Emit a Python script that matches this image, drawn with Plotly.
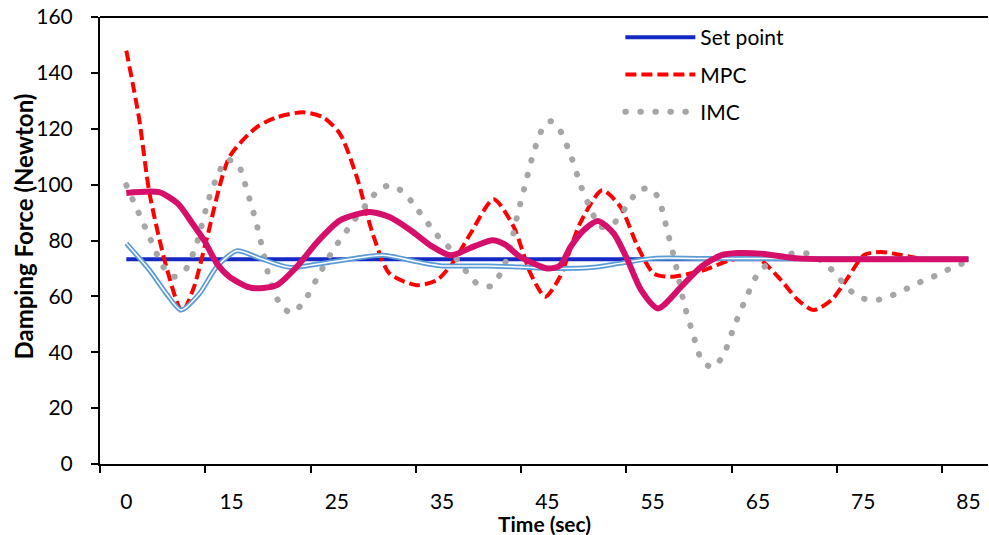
import plotly.graph_objects as go

# x positions: label "0" sits at 5, "15" at 15, ... "85" at 85 (category-style axis)
tick_vals = [5, 15, 25, 35, 45, 55, 65, 75, 85]
tick_text = ["0", "15", "25", "35", "45", "55", "65", "75", "85"]
y_ticks = [0, 20, 40, 60, 80, 100, 120, 140, 160]

set_x = [5, 85]
set_y = [73.3, 73.3]

mpc_x = [5.0, 6.2, 7.2, 8.8, 10.3, 11.4, 12.6, 14.8, 17.4, 19.3, 21.8, 23.7, 25.3, 26.9, 28.4,
         30.0, 32.6, 34.5, 36.0, 37.7, 39.9, 41.8, 43.4, 44.8, 46.2, 48.1, 50.2, 51.95, 53.6,
         55.1, 56.7, 59.9, 62.4, 65.0, 67.2, 68.8, 70.3, 72.0, 73.6, 75.1, 76.7, 78.6, 80.5, 85.0]
mpc_y = [148, 124, 97, 70.6, 54.5, 63, 80, 109.9, 120.6, 124.1, 125.9, 124.1, 118.2, 102.7, 82.5,
         68.2, 64, 65.8, 71.9, 82.5, 94.8, 84.9, 68.2, 59.9, 67, 86.1, 98, 92, 77.7,
         68.2, 67, 69.4, 73, 73.6, 65.8, 58.7, 55.1, 58.7, 67, 74.8, 75.9, 74.8, 73.5, 73.3]

imc_x = [5.0, 7.3, 8.5, 9.5, 10.6, 11.7, 12.8, 13.8, 14.5, 15.6, 16.5, 17.3, 17.95, 18.6, 19.7,
         20.7, 21.8, 23.2, 24.6, 26.2, 27.9, 28.8, 30.0, 31.3, 32.2, 33.9, 34.8, 35.8, 36.6,
         37.5, 38.4, 39.7, 40.5, 41.1, 41.5, 42.1, 42.8, 43.5, 44.4, 45.3, 46.2, 47.3, 48.2,
         49.3, 50.0, 51.2, 52.1, 52.9, 53.8, 55.0, 55.7, 56.4, 57.1, 58.0, 58.8, 59.7, 60.7,
         61.7, 62.7, 63.8, 65.0, 66.0, 67.2, 68.7, 70.0, 71.3, 72.3, 73.2, 74.2, 75.5, 76.9,
         78.2, 79.5, 80.7, 82.0, 83.3, 84.6, 85.0]
imc_y = [99.8, 80.4, 70.6, 67, 69.4, 79.1, 94.4, 104.4, 108.9, 107.3, 97.4, 87, 76.8, 66.4, 56.6,
         54.1, 57.7, 67, 76.3, 84.9, 93.4, 97.4, 99.8, 97.4, 93.4, 84.9, 80.7, 76.9, 72.1,
         68, 64.3, 63.7, 67.9, 73, 78.1, 88.2, 98.6, 108.9, 119, 122.7, 119.4, 109.6, 99.4,
         89.6, 84.9, 85.8, 89.9, 94.4, 98.3, 98.2, 93.6, 83.3, 73, 57.2, 47, 36.9, 34.6,
         38.8, 48.8, 58.7, 68.2, 71.8, 74.4, 75.6, 75.1, 72, 68.4, 64.4, 60.7, 58.7, 59.1,
         61.1, 63.4, 65.6, 67.6, 70, 72.1, 73]

blue2_x = [5.0, 7.2, 8.8, 10.2, 11.95, 13.6, 15.5, 17.7, 20.5, 24.6, 29.4, 32.6, 34.8, 39.3,
           42.4, 45.6, 49.1, 52.0, 55.1, 59.6, 85.0]
blue2_y = [79, 69.4, 61, 55.1, 61, 70.6, 76.3, 73.6, 70.4, 72.4, 74.7, 72.4, 71, 70.9,
           70.5, 70, 70.3, 71.9, 73.6, 73.6, 73.4]

mag_x = [5.0, 8.1, 9.9, 11.3, 12.4, 13.6, 14.8, 16.7, 18.0, 19.3, 21.2, 23.1, 25.3, 28.1, 30.0,
         32.0, 34.0, 35.8, 38.1, 39.8, 41.0, 42.4, 45.0, 46.2, 47.2, 48.4, 49.8, 51.3, 52.6,
         53.9, 55.5, 57.7, 59.6, 61.5, 63.1, 65.3, 68.8, 72.0, 85.0]
mag_y = [97, 97.3, 93.2, 86, 80, 71.8, 67, 63.2, 63, 64, 70.6, 79.3, 87.2, 90.2, 88.4,
         83.7, 78, 74.7, 78, 80.1, 78.5, 74.2, 70, 71, 77.7, 83.5, 87, 82.5, 73.2,
         62.3, 55.7, 63.4, 70.6, 74.7, 75.5, 75.3, 73.6, 73.3, 73.3]

FONT = "Lato"
IMC_COLOR = "#A6A6A6"

fig = go.Figure()
fig.add_trace(go.Scatter(x=set_x, y=set_y, mode="lines", name="Set point",
                         line=dict(color="#1428C4", width=4), legendgroup="a"))
fig.add_trace(go.Scatter(x=mpc_x, y=mpc_y, mode="lines", name="MPC",
                         line=dict(color="#FF0000", width=4, dash="11px,5px", shape="spline", smoothing=0.7),
                         legendgroup="b"))
fig.add_trace(go.Scatter(x=imc_x, y=imc_y, mode="lines", name="IMC",
                         line=dict(color=IMC_COLOR, width=6, dash="0.5px,14.5px", shape="spline", smoothing=0.7),
                         legendgroup="c"))
fig.add_trace(go.Scatter(x=blue2_x, y=blue2_y, mode="lines", showlegend=False,
                         line=dict(color="#5B9BD5", width=5, shape="spline", smoothing=0.7)))
fig.add_trace(go.Scatter(x=blue2_x, y=blue2_y, mode="lines", showlegend=False,
                         line=dict(color="#FFFFFF", width=1.5, shape="spline", smoothing=0.7)))
fig.add_trace(go.Scatter(x=mag_x, y=mag_y, mode="lines", showlegend=False,
                         line=dict(color="#D6106A", width=6, shape="spline", smoothing=0.7)))

fig.update_layout(
    width=989, height=535,
    margin=dict(l=100, r=1, t=17, b=71),
    paper_bgcolor="white", plot_bgcolor="white",
    font=dict(family=FONT, size=21, color="#000000"),
    showlegend=True,
    legend=dict(x=0.586, y=1.0, xanchor="left", yanchor="top", itemwidth=70,
                traceorder="grouped", tracegroupgap=7, bgcolor="rgba(0,0,0,0)",
                font=dict(family=FONT, size=21)),
    xaxis=dict(range=[2.5, 86.86], tickvals=tick_vals, ticktext=tick_text, ticks="",
               showline=True, linecolor="#000000", linewidth=2, showgrid=False, zeroline=False,
               ticklabelstandoff=18,
               minor=dict(tick0=2.5, dtick=10, ticks="outside", ticklen=7, tickwidth=1.5,
                          tickcolor="#000000", showgrid=False)),
    yaxis=dict(range=[0, 160], tickvals=y_ticks, ticks="outside", ticklen=7, tickwidth=1.5,
               tickcolor="#000000", showline=True, linecolor="#000000", linewidth=2,
               showgrid=False, zeroline=False, ticklabelstandoff=14),
    shapes=[dict(type="line", xref="paper", yref="paper", x0=0, x1=1, y0=1, y1=1,
                 line=dict(color="#000000", width=2))],
    annotations=[
        dict(text="<b>Time (sec)</b>", xref="paper", yref="paper", x=0.5, y=0,
             yshift=-59, xanchor="center", yanchor="middle", showarrow=False,
             font=dict(family=FONT, size=21)),
        dict(text="<b>Damping Force (Newton)</b>", xref="paper", yref="paper", x=0, y=0.5,
             xshift=-77, yshift=14, xanchor="center", yanchor="middle", textangle=-90,
             showarrow=False, font=dict(family=FONT, size=24)),
    ],
)

# round line caps so the IMC dotted line shows round dots, and remove page margin
post = """
document.body.style.margin='0';
document.querySelectorAll('path').forEach(function(p){
  if ((p.style.stroke||'').replace(/\\s/g,'') === 'rgb(166,166,166)') {
    p.style.strokeLinecap = 'round';
  }
});
"""

fig.write_html("out.html", config={"displayModeBar": False}, post_script=post)
